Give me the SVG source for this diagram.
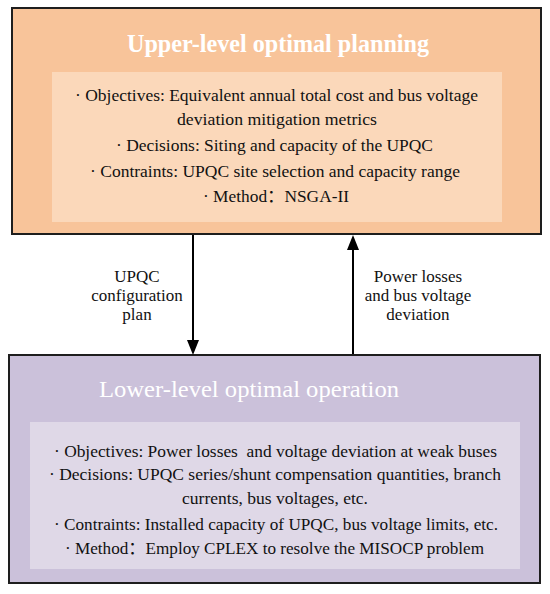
<svg xmlns="http://www.w3.org/2000/svg" width="550" height="594" viewBox="0 0 550 594">
<defs>
<style>
.outer{stroke:#1e1e1e;stroke-width:2}
.up{fill:#F8C49A}
.upin{fill:#FBD8BA}
.lo{fill:#CBC1DA}
.loin{fill:#DFD8E7}
.t{font-family:"Liberation Serif","Noto Sans CJK SC",serif;fill:#111;font-size:17px;white-space:pre}
.lbl{font-family:"Liberation Serif",serif;fill:#111;font-size:17px;text-anchor:middle}
.title{font-family:"Liberation Serif",serif;fill:#fff}
.conn{stroke:#000;stroke-width:2;fill:none}
</style>
<marker id="ah" markerUnits="userSpaceOnUse" markerWidth="15" markerHeight="12" refX="0" refY="6" orient="auto">
<path d="M0,0 L15,6 L0,12 z" fill="#000"/>
</marker>
</defs>
<rect width="550" height="594" fill="#fff"/>
<g id="upper">
<rect class="outer up" x="12" y="8" width="529" height="226"/>
<rect class="upin" x="52" y="72" width="450" height="150"/>
<text class="title" x="127" y="52" font-size="25" font-weight="bold" textLength="302" lengthAdjust="spacingAndGlyphs">Upper-level optimal planning</text>
<text class="t" x="75" y="101" textLength="403" lengthAdjust="spacingAndGlyphs">· Objectives: Equivalent annual total cost and bus voltage</text>
<text class="t" x="177" y="125" textLength="200" lengthAdjust="spacingAndGlyphs">deviation mitigation metrics</text>
<text class="t" x="116" y="151" textLength="317" lengthAdjust="spacingAndGlyphs">· Decisions: Siting and capacity of the UPQC</text>
<text class="t" x="90" y="177" textLength="370" lengthAdjust="spacingAndGlyphs">· Contraints: UPQC site selection and capacity range</text>
<text class="t" x="203" y="202" textLength="146" lengthAdjust="spacingAndGlyphs">· Method：NSGA-II</text>
</g>
<g id="lower">
<rect class="outer lo" x="9" y="355" width="531" height="228"/>
<rect class="loin" x="30" y="422" width="490" height="147"/>
<text class="title" x="99" y="397" font-size="24" textLength="300" lengthAdjust="spacingAndGlyphs">Lower-level optimal operation</text>
<text class="t" x="54" y="457" textLength="443" lengthAdjust="spacingAndGlyphs">· Objectives: Power losses  and voltage deviation at weak buses</text>
<text class="t" x="49" y="480" textLength="452" lengthAdjust="spacingAndGlyphs">· Decisions: UPQC series/shunt compensation quantities, branch</text>
<text class="t" x="182" y="504" textLength="186" lengthAdjust="spacingAndGlyphs">currents, bus voltages, etc.</text>
<text class="t" x="54" y="530" textLength="444" lengthAdjust="spacingAndGlyphs">· Contraints: Installed capacity of UPQC, bus voltage limits, etc.</text>
<text class="t" x="65" y="554" textLength="419" lengthAdjust="spacingAndGlyphs">· Method：Employ CPLEX to resolve the MISOCP problem</text>
</g>
<g id="connectors">
<line class="conn" x1="193" y1="235" x2="193" y2="340" marker-end="url(#ah)"/>
<line class="conn" x1="353" y1="354" x2="353" y2="250" marker-end="url(#ah)"/>
</g>
<g id="labels">
<text class="lbl" x="137" y="282">UPQC</text>
<text class="lbl" x="137" y="301">configuration</text>
<text class="lbl" x="137" y="320">plan</text>
<text class="lbl" x="418" y="282">Power losses</text>
<text class="lbl" x="418" y="301">and bus voltage</text>
<text class="lbl" x="418" y="320">deviation</text>
</g>
</svg>
